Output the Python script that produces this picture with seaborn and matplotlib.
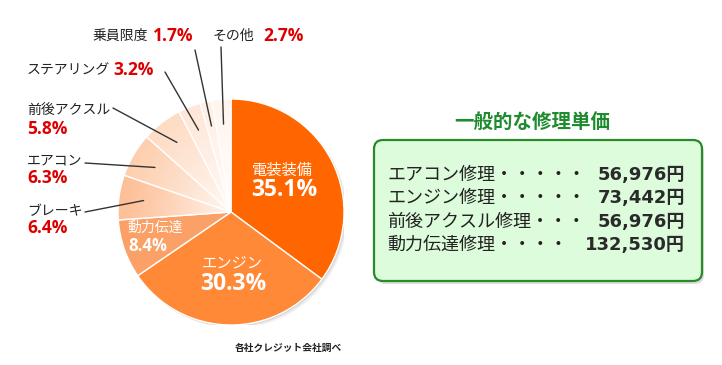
import numpy as np
import matplotlib
matplotlib.use('Agg')
from matplotlib import pyplot as plt
from matplotlib.patches import FancyBboxPatch, Circle
import seaborn as sns

sns.set_theme(style='white')
plt.rcParams['font.family'] = ['Noto Sans CJK JP', 'DejaVu Sans']

# Data
categories = ['電装装備', 'エンジン', '動力伝達', 'ブレーキ', 'エアコン',
              '前後アクスル', 'ステアリング', '乗員限度', 'その他']
shares = [35.1, 30.3, 8.4, 6.4, 6.3, 5.8, 3.2, 1.7, 2.7]

repair_items = ['エアコン修理', 'エンジン修理', '前後アクスル修理', '動力伝達修理']
repair_costs = [56976, 73442, 56976, 132530]
leader_dots = [5, 5, 3, 4]

# Colours: orange fading toward white
slice_colors = ['#FF6600', '#FF8936', '#FBA066', '#FDBF96', '#FDCFAE',
                '#FEDCC4', '#FEE7D8', '#FFEFE4', '#FFF5EE']

W, H = 722, 365
fig = plt.figure(figsize=(W / 100, H / 100), dpi=100)
fig.patch.set_facecolor('white')

# Pie axes (centre 231,212 px, radius 113 px)
cx, cy, rad = 231, 212, 113
pax = fig.add_axes([(cx - rad) / W, (H - cy - rad) / H, 2 * rad / W, 2 * rad / H])
for off, a in [(0.03, 0.08), (0.02, 0.12), (0.01, 0.15)]:
    pax.add_patch(Circle((off, -off), 1.0, color='#777777', alpha=a, lw=0, zorder=0))
wedges, _ = pax.pie(shares, colors=slice_colors, startangle=90, counterclock=False,
                    radius=1, wedgeprops=dict(edgecolor='white', linewidth=1))

# radial white gradient on the light slices
yy, xx = np.mgrid[-1:1:400j, -1:1:400j]
rr = np.hypot(xx, yy)
grad = np.ones((400, 400, 4))
grad[..., 3] = np.clip(1 - rr, 0, 1) ** 1.2 * 0.85
for w in wedges[3:]:
    im = pax.imshow(grad, extent=(-1, 1, -1, 1), origin='lower',
                    zorder=w.get_zorder() + 0.1, interpolation='bilinear')
    im.set_clip_path(w)
pax.set_xlim(-1, 1)
pax.set_ylim(-1, 1)
pax.set_aspect('equal')
pax.axis('off')

# Overlay axes in pixel coordinates (y down)
ov = fig.add_axes([0, 0, 1, 1])
ov.set_xlim(0, W)
ov.set_ylim(H, 0)
ov.axis('off')
ov.patch.set_visible(False)

def to_px(xy):
    disp = pax.transData.transform(xy)
    return ov.transData.inverted().transform(disp)

pct_font = ['Open Sans', 'Noto Sans CJK JP']

# Inside labels
inside = {0: ((282, 170), (284, 190), 'center', 11, 16.5),
          1: ((232, 263), (233, 284), 'center', 11, 16.5),
          2: ((127, 228), (128, 246), 'left', 10, 12)}
for i, (nxy, pxy, ha, nfs, pfs) in inside.items():
    ov.text(*nxy, categories[i], color='white', fontsize=nfs, ha=ha, va='center')
    ov.text(*pxy, f'{shares[i]}%', color='white', fontsize=pfs, ha=ha, va='center',
            fontweight='bold', family=pct_font)

# Outside labels: name position, percent position, line start
outside = {3: ((27, 211), (27, 228), (85, 212)),
           4: ((27, 161), (27, 178), (85, 163)),
           5: ((27, 110), (27, 129), (113, 108)),
           6: ((27, 70), (113, 70), (165, 72)),
           7: ((92, 36), (153, 36), (195, 50)),
           8: ((213, 36), (263, 36), (221, 47))}
for i, (nxy, pxy, start) in outside.items():
    ov.text(*nxy, categories[i], color='#222222', fontsize=10, ha='left', va='center')
    ov.text(*pxy, f'{shares[i]}%', color='#DD0000', fontsize=12.5, ha='left', va='center',
            fontweight='bold', family=pct_font)
    w = wedges[i]
    mid = np.deg2rad((w.theta1 + w.theta2) / 2)
    end = to_px((0.78 * np.cos(mid), 0.78 * np.sin(mid)))
    ov.plot([start[0], end[0]], [start[1], end[1]], color='#333333', lw=1)

ov.text(288, 348, '各社クレジット会社調べ', fontsize=7, fontweight='bold',
        color='#222222', ha='center', va='center')

# Right panel
ov.text(532, 122, '一般的な修理単価', fontsize=14, fontweight='bold', color='#1E8B2E',
        ha='center', va='center')
ov.add_patch(FancyBboxPatch((377, 143), 327, 141, boxstyle='round,pad=0,rounding_size=9',
                            fc='#AAAAAA', ec='none', alpha=0.4, zorder=1))
ov.add_patch(FancyBboxPatch((374, 140), 328, 141, boxstyle='round,pad=0,rounding_size=9',
                            fc='#DDFCDC', ec='#2A8A2A', lw=1.6, zorder=2))
for k, (item, cost, nd) in enumerate(zip(repair_items, repair_costs, leader_dots)):
    y = 175 + k * 23.3
    ov.text(387, y, item + '・' * nd, fontsize=13, color='#222222', ha='left', va='center', zorder=3)
    ov.text(685, y, f'{cost:,}円', fontsize=13, color='#2a2a2a', ha='right', va='center',
            fontweight='bold', family=['DejaVu Sans', 'Noto Sans CJK JP'], zorder=3)

fig.savefig('out.png', dpi=100)
